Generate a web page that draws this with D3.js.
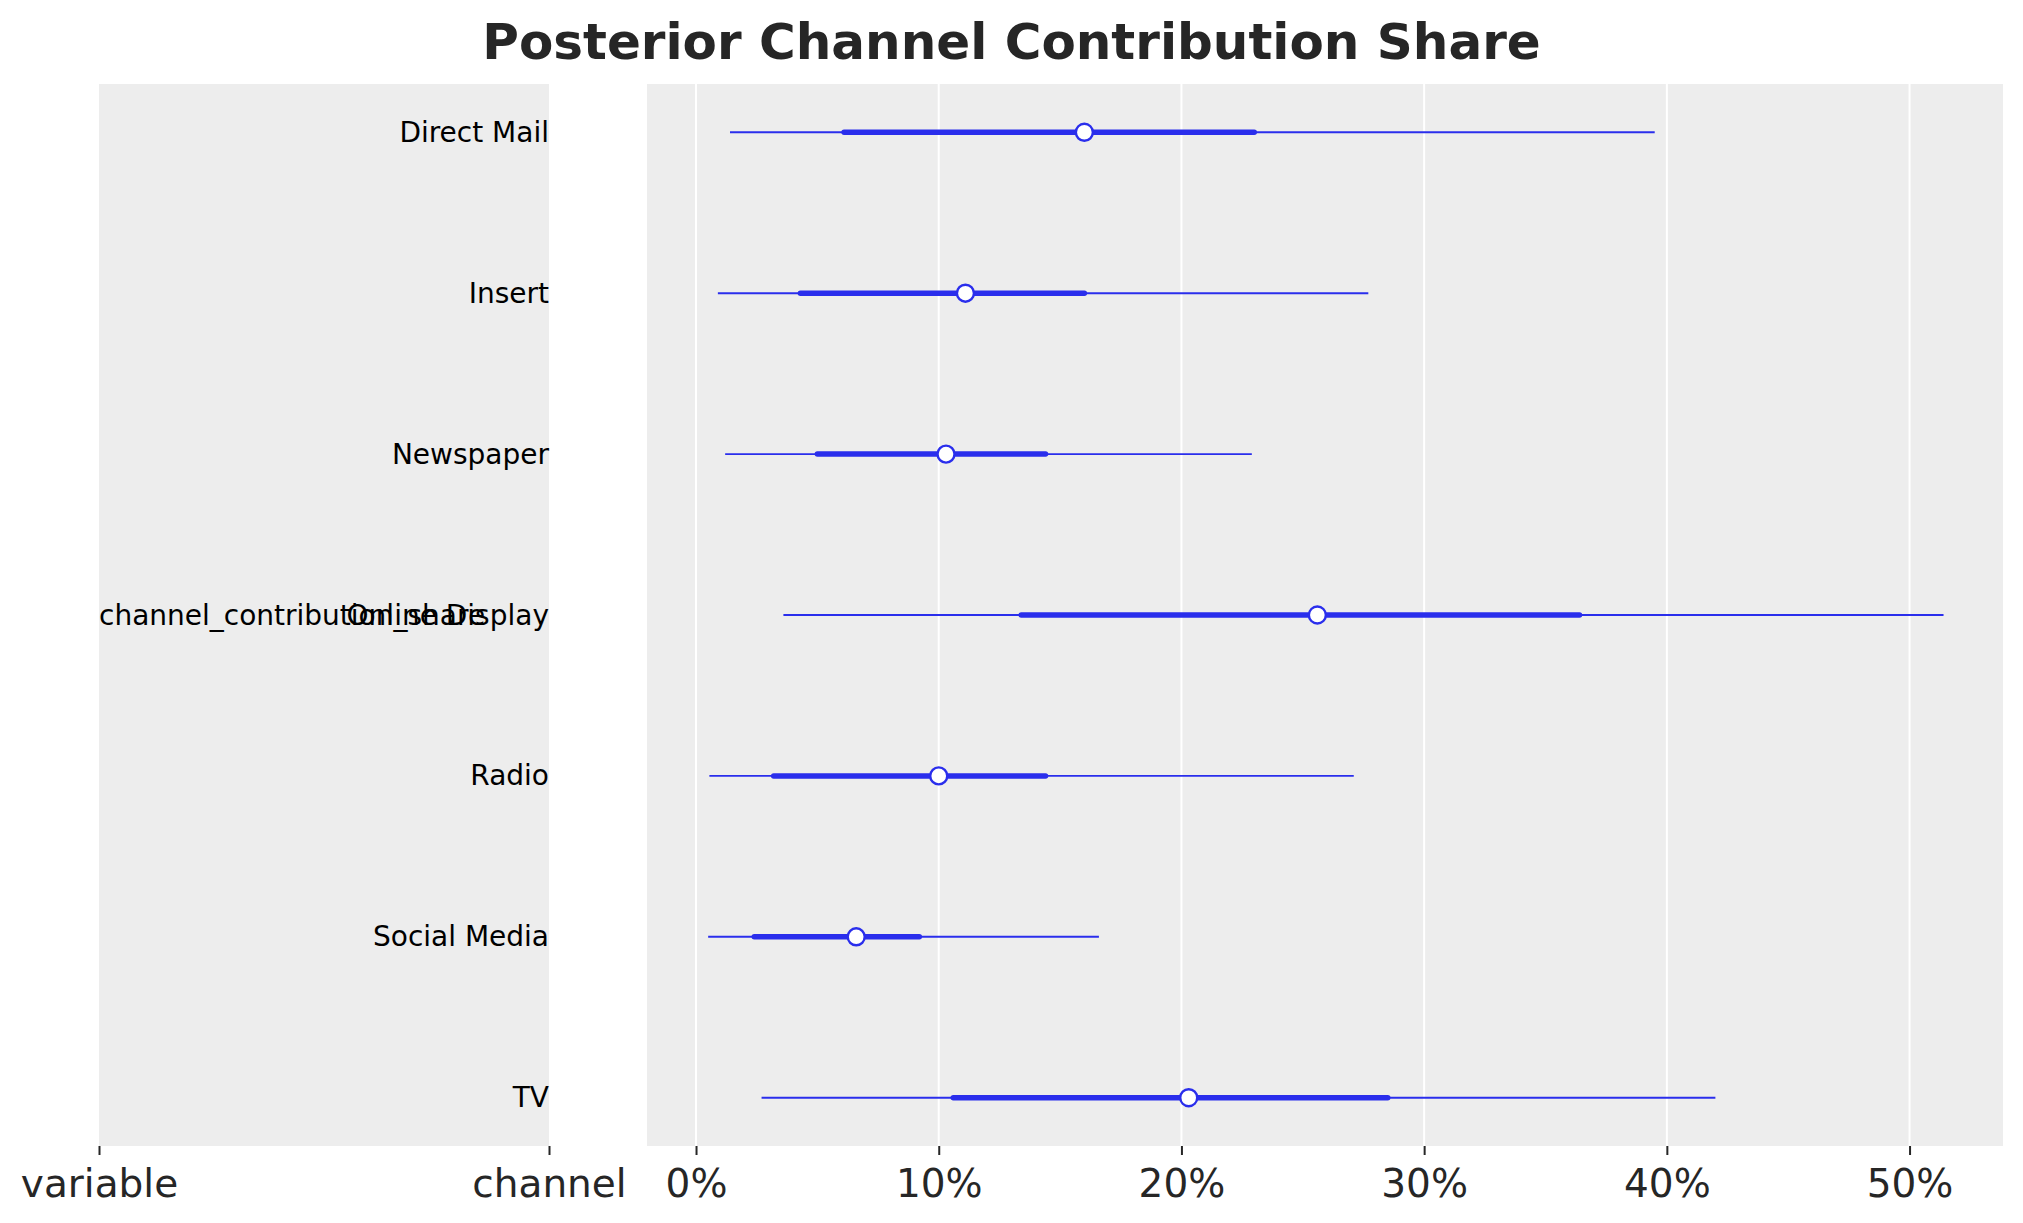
<!DOCTYPE html>
<html lang="en">
<head>
    <meta charset="UTF-8">
    <title>Posterior Channel Contribution Share</title>
    <style>
        body {
            margin: 0;
            padding: 0;
            background-color: #ffffff;
        }
        text {
            font-family: "DejaVu Sans", sans-serif;
        }
    </style>
    <script src="https://d3js.org/d3.v7.min.js"></script>
</head>
<body>
    <script>
        const width = 2023;
        const height = 1223;

        // data (shares, in %)
        const channels = ["Direct Mail", "Insert", "Newspaper", "Online Display", "Radio", "Social Media", "TV"];
        const hdiLow = [1.4, 0.9, 1.2, 3.6, 0.55, 0.5, 2.7];
        const q25 = [6.1, 4.3, 5.0, 13.4, 3.2, 2.4, 10.6];
        const medians = [16.0, 11.1, 10.3, 25.6, 10.0, 6.6, 20.3];
        const q75 = [23.0, 16.0, 14.4, 36.4, 14.4, 9.2, 28.5];
        const hdiHigh = [39.5, 27.7, 22.9, 51.4, 27.1, 16.6, 42.0];
        const xTicks = [0, 10, 20, 30, 40, 50];
        const labelColumns = ["variable", "channel"];
        const variableName = "channel_contribution_share";

        const lineColor = "#2a2eec";
        const panelColor = "#ededed";

        const svg = d3.select("body").append("svg")
            .attr("width", width)
            .attr("height", height);

        const panelTop = 84, panelBottom = 1146;

        // title
        svg.append("text")
            .attr("x", width / 2)
            .attr("y", 59)
            .attr("text-anchor", "middle")
            .attr("font-size", 50)
            .attr("font-weight", "bold")
            .attr("fill", "#262626")
            .text("Posterior Channel Contribution Share");

        const y = d3.scalePoint()
            .domain(channels)
            .range([panelTop, panelBottom])
            .padding(0.3);

        // left label panel
        const xLab = d3.scalePoint()
            .domain(labelColumns)
            .range([99, 549]);

        svg.append("rect")
            .attr("x", 99).attr("y", panelTop)
            .attr("width", 549 - 99).attr("height", panelBottom - panelTop)
            .attr("fill", panelColor);

        svg.selectAll(".chan-label")
            .data(channels)
            .enter().append("text")
            .attr("class", "chan-label")
            .attr("x", xLab("channel"))
            .attr("y", d => y(d))
            .attr("text-anchor", "end")
            .attr("dominant-baseline", "central")
            .attr("font-size", 28)
            .attr("fill", "#000")
            .text(d => d);

        svg.append("text")
            .attr("x", xLab("variable"))
            .attr("y", y(channels[3]))
            .attr("text-anchor", "start")
            .attr("dominant-baseline", "central")
            .attr("font-size", 28)
            .attr("fill", "#000")
            .text(variableName);

        const labAxis = svg.append("g")
            .attr("transform", `translate(0,${panelBottom})`)
            .call(d3.axisBottom(xLab).tickSize(9).tickPadding(14));

        // forest panel
        const x = d3.scaleLinear()
            .domain([-2.02, 53.85])
            .range([647, 2003]);

        svg.append("rect")
            .attr("x", 647).attr("y", panelTop)
            .attr("width", 2003 - 647).attr("height", panelBottom - panelTop)
            .attr("fill", panelColor);

        svg.append("g")
            .selectAll("line")
            .data(xTicks)
            .enter().append("line")
            .attr("x1", d => x(d)).attr("x2", d => x(d))
            .attr("y1", panelTop).attr("y2", panelBottom)
            .attr("stroke", "#ffffff")
            .attr("stroke-width", 2);

        const xAxis = svg.append("g")
            .attr("transform", `translate(0,${panelBottom})`)
            .call(d3.axisBottom(x).tickValues(xTicks)
                .tickFormat(d => d + "%")
                .tickSize(9).tickPadding(14));

        [labAxis, xAxis].forEach(g => {
            g.select(".domain").remove();
            g.selectAll(".tick line").attr("stroke", "#262626").attr("stroke-width", 2);
            g.selectAll(".tick text")
                .attr("font-size", 39)
                .attr("font-family", "DejaVu Sans, sans-serif")
                .attr("fill", "#262626");
        });

        const rows = channels.map((c, i) => ({
            name: c, lo: hdiLow[i], q1: q25[i], med: medians[i], q3: q75[i], hi: hdiHigh[i]
        }));

        // hdi lines
        svg.selectAll(".hdi")
            .data(rows)
            .enter().append("line")
            .attr("class", "hdi")
            .attr("x1", d => x(d.lo)).attr("x2", d => x(d.hi))
            .attr("y1", d => y(d.name)).attr("y2", d => y(d.name))
            .attr("stroke", lineColor)
            .attr("stroke-width", 1.9);

        // interquartile lines
        svg.selectAll(".iqr")
            .data(rows)
            .enter().append("line")
            .attr("class", "iqr")
            .attr("x1", d => x(d.q1)).attr("x2", d => x(d.q3))
            .attr("y1", d => y(d.name)).attr("y2", d => y(d.name))
            .attr("stroke", lineColor)
            .attr("stroke-width", 5.5)
            .attr("stroke-linecap", "round");

        // medians
        svg.selectAll(".med")
            .data(rows)
            .enter().append("circle")
            .attr("class", "med")
            .attr("cx", d => x(d.med))
            .attr("cy", d => y(d.name))
            .attr("r", 8.5)
            .attr("fill", "#ffffff")
            .attr("stroke", lineColor)
            .attr("stroke-width", 2.4);
    </script>
</body>
</html>
